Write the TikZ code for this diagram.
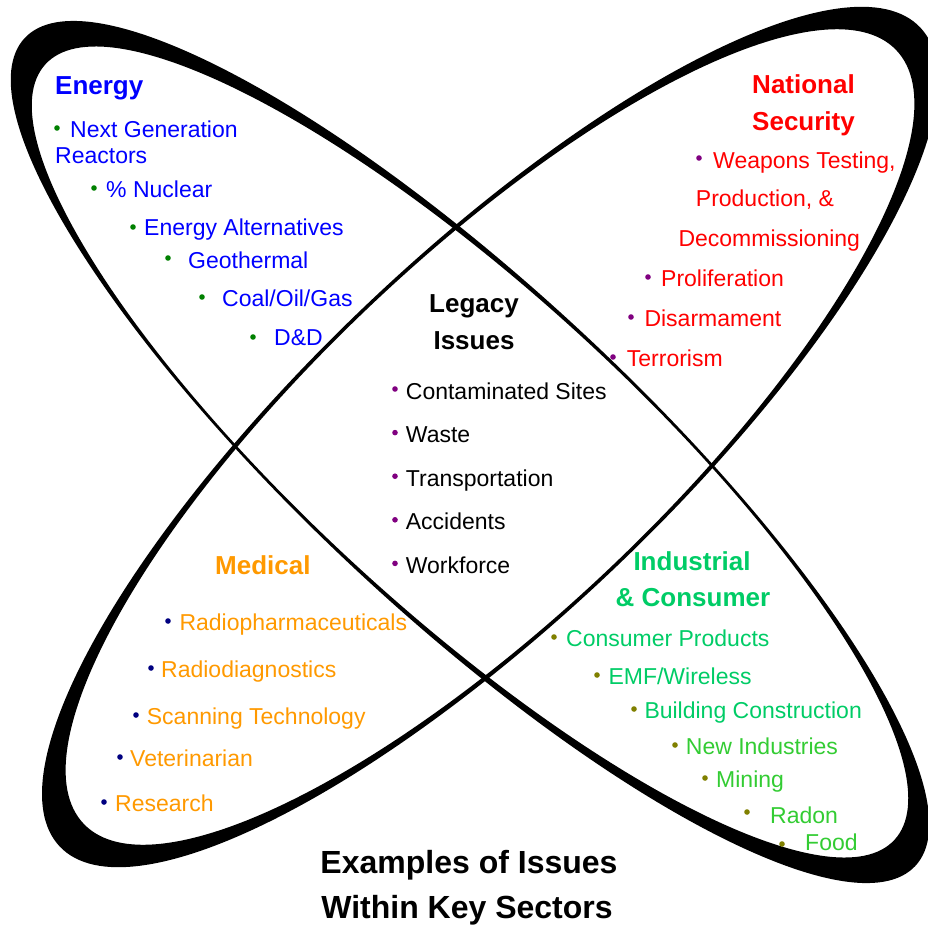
\documentclass[tikz,border=0pt]{standalone}
\usepackage{fontspec}
\setmainfont{Liberation Sans}

\definecolor{energytext}{RGB}{0,0,255}
\definecolor{energydot}{RGB}{0,128,0}
\definecolor{securitytext}{RGB}{255,0,0}
\definecolor{securitydot}{RGB}{128,0,128}
\definecolor{medicaltext}{RGB}{255,153,0}
\definecolor{medicaldot}{RGB}{0,0,128}
\definecolor{industrytext}{RGB}{0,204,102}
\definecolor{industrylight}{RGB}{51,204,51}
\definecolor{industrydot}{RGB}{128,128,0}

\newcommand{\itemsize}{\fontsize{23}{27}\selectfont}
\newcommand{\headsize}{\fontsize{26}{30}\selectfont\bfseries}
\newcommand{\titlesize}{\fontsize{32}{38}\selectfont\bfseries}

\tikzset{
    entry/.style={anchor=base west, inner sep=0pt, font=\itemsize},
    heading/.style={anchor=base, inner sep=0pt, font=\headsize},
    loopband/.style={fill=black, even odd rule},
}

\begin{document}
\begin{tikzpicture}[x=1pt, y=-1pt]
    \useasboundingbox (0,0) rectangle (928,926);

    % Two crossed loops, thick at the ends and thin where they cross
    \begin{scope}
        \clip (0,0) rectangle (928,926);
        \fill[loopband]
            [shift={(470,452)}, rotate=-42.9] (0,0) ellipse [x radius=608, y radius=164]
            [rotate=0.5] (0,0) ellipse [x radius=575, y radius=160.5];
        \fill[loopband]
            [shift={(490,437)}, rotate=43.6] (0,0) ellipse [x radius=594, y radius=181]
            (0,0) ellipse [x radius=561, y radius=177.5];
    \end{scope}

    % Energy
    \node[heading, anchor=base west, text=energytext] (energy) at (55,94) {Energy};
    \foreach \bx/\by/\tx/\ty/\txt [count=\i] in {57/128/70/137/{Next Generation},
            94/188/106/197/{\% Nuclear}, 133/227/144/235/{Energy Alternatives},
            168/258/188/268/Geothermal, 202/297/222/306/{Coal/Oil/Gas},
            253/337/274/345/{D\&D}} {
        \fill[energydot] (\bx,\by) circle (2.8);
        \node[entry, text=energytext] (energy\i) at (\tx,\ty) {\txt};
    }
    \node[entry, text=energytext] (energy1b) at (55,163) {Reactors};

    % National Security
    \node[heading, text=securitytext] (security) at (803.5,93) {National};
    \node[heading, text=securitytext] (security2) at (803.5,130.5) {Security};
    \fill[securitydot] (699,158) circle (2.8);
    \node[entry, text=securitytext] (weapons) at (713,168) {Weapons Testing,};
    \node[entry, text=securitytext] (production) at (695.7,206.7) {Production, \&};
    \node[entry, text=securitytext] (decommission) at (678.3,246.7) {Decommissioning};
    \foreach \bx/\by/\tx/\ty/\txt [count=\i] in {648/277/661/286.7/Proliferation,
            631/317/644.3/326/Disarmament, 613/357/626.7/366/Terrorism} {
        \fill[securitydot] (\bx,\by) circle (2.8);
        \node[entry, text=securitytext] (security\i) at (\tx,\ty) {\txt};
    }

    % Legacy Issues
    \node[heading] (legacy) at (474,312) {Legacy};
    \node[heading] (legacy2) at (474,349) {Issues};
    \foreach \txt [count=\i] in {Contaminated Sites, Waste, Transportation,
            Accidents, Workforce} {
        \fill[securitydot] (395,{389+43.6*(\i-1)}) circle (2.8);
        \node[entry] (legacy\i) at (405.7,{399+43.6*(\i-1)}) {\txt};
    }

    % Medical
    \node[heading, anchor=base west, text=medicaltext] (medical) at (215,574) {Medical};
    \foreach \bx/\by/\tx/\ty/\txt [count=\i] in {168/621/179.3/630.7/Radiopharmaceuticals,
            151/668/161/677.3/Radiodiagnostics, 136/715/146.7/724.3/{Scanning Technology},
            120/757/130/766.7/Veterinarian, 104/802/115/811/Research} {
        \fill[medicaldot] (\bx,\by) circle (2.8);
        \node[entry, text=medicaltext] (medical\i) at (\tx,\ty) {\txt};
    }

    % Industrial & Consumer
    \node[heading, text=industrytext] (industry) at (692,570) {Industrial};
    \node[heading, text=industrytext] (industry2) at (693,606) {\& Consumer};
    \foreach \bx/\by/\tx/\ty/\col/\txt [count=\i] in {
            554/637/566/646.7/industrytext/{Consumer Products},
            597/675/608.3/684/industrytext/{EMF/Wireless},
            634/709/644.3/718.3/industrytext/{Building Construction},
            675/745/685.7/754/industrylight/{New Industries},
            705/778/716/787.3/industrylight/Mining,
            747/812/770/823.3/industrylight/Radon,
            782/844/805/850/industrylight/Food} {
        \fill[industrydot] (\bx,\by) circle (2.8);
        \node[entry, text=\col] (industry\i) at (\tx,\ty) {\txt};
    }

    % Title
    \node[anchor=base, inner sep=0pt, font=\titlesize] (title) at (469,873) {Examples of Issues};
    \node[anchor=base, inner sep=0pt, font=\titlesize] (title2) at (467,918) {Within Key Sectors};

\end{tikzpicture}
\end{document}
